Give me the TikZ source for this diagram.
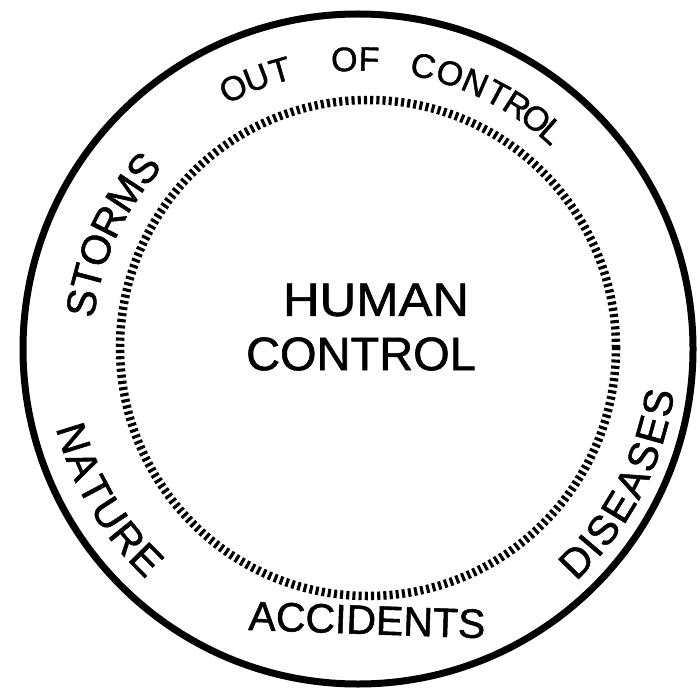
\documentclass[tikz,border=0pt]{standalone}
\usepackage{fontspec}
\setmainfont{Liberation Sans}[FakeBold=1.2]
\begin{document}
\begin{tikzpicture}[x=1pt,y=1pt,
  toptext/.style={font=\fontsize{34}{34}\selectfont, inner sep=0pt},
  sidetext/.style={font=\fontsize{41}{41}\selectfont, inner sep=0pt},
  centertext/.style={font=\fontsize{47}{47}\selectfont, inner sep=0pt}]
\useasboundingbox (0,0) rectangle (700,689);
\coordinate (C) at (360,340);
\coordinate (outerc) at (358,340);
\coordinate (innerc) at (368,341);
% outer circle
\draw[line width=7pt] (outerc) circle (335);
% inner hatched ring
\draw[line width=8.5pt, dash pattern=on 3.1pt off 3.1pt] (innerc) circle (248);
% OUT OF CONTROL
\foreach \l/\a [count=\i] in {O/115.9,U/110.9,T/106.0,O/93.1,F/88.2,C/77.4,O/71.9,N/66.6,T/61.7,R/57.2,O/52.6,L/48.6}
  \path (C) ++(\a:290) node[toptext, rotate=\a-90] (ooc\i) {\l};
% STORMS
\foreach \l/\a [count=\i] in {S/170.6,T/165.2,O/159.4,R/153.1,M/146.5,S/140.2}
  \path (C) ++(\a:282) node[sidetext, rotate=\a-90] (sto\i) {\l};
% NATURE
\foreach \l/\a [count=\i] in {N/197.3,A/202.8,T/208.0,U/213.3,R/219.1,E/224.6}
  \path (C) ++(\a:300) node[sidetext, rotate=\a+90] (nat\i) {\l};
% DISEASES
\foreach \l/\a [count=\i] in {D/315.6,I/319.6,S/323.3,E/328.6,A/333.9,S/339.2,E/344.5,S/349.8}
  \path (C) ++(\a:303) node[sidetext, rotate=\a+90] (dis\i) {\l};
% ACCIDENTS
\node[sidetext, rotate=-2] (acc) at (367,69) {ACCIDENTS};
% centre
\node[centertext, xscale=1.08] (human) at (376,389) {HUMAN};
\node[centertext] (control) at (361,335) {CONTROL};
\end{tikzpicture}
\end{document}
